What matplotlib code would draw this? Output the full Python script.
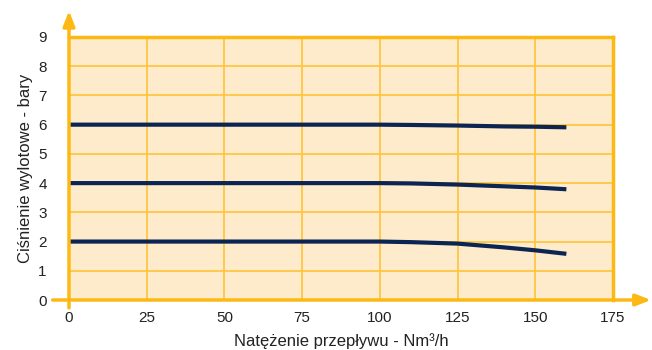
import matplotlib
matplotlib.use("Agg")
import matplotlib.pyplot as plt
import numpy as np

plt.rcParams['font.family'] = ['Liberation Sans', 'DejaVu Sans']

# flow rate (Nm3/h) and outlet pressure (bar) for three settings
flow = [0, 25, 50, 75, 100, 110, 125, 140, 150, 160]
p6 = [6.0, 6.0, 6.0, 6.0, 6.0, 5.99, 5.97, 5.94, 5.93, 5.91]
p4 = [4.0, 4.0, 4.0, 4.0, 4.0, 3.99, 3.95, 3.89, 3.85, 3.79]
p2 = [2.0, 2.0, 2.0, 2.0, 2.0, 1.98, 1.93, 1.80, 1.70, 1.58]

xticks = [0, 25, 50, 75, 100, 125, 150, 175]
yticks = list(range(10))

orange = '#FDB913'
grid_c = '#FDC437'
fill_c = '#FDEBCC'
navy = '#0B2452'

fig = plt.figure(figsize=(6.52, 3.5), dpi=100)
ax = fig.add_axes([69/652, 1 - 300/350, (613 - 69)/652, (300 - 37)/350])
ax.set_facecolor(fill_c)
ax.set_xlim(0, 175)
ax.set_ylim(0, 9)
ax.set_xticks(xticks)
ax.set_yticks(yticks)
ax.grid(True, color=grid_c, linewidth=1.2)
ax.set_axisbelow(True)
ax.tick_params(length=0, labelsize=11, colors='#222222')
ax.tick_params(axis='y', pad=16)
ax.tick_params(axis='x', pad=8)

for s in ['top', 'right']:
    ax.spines[s].set_color(orange)
    ax.spines[s].set_linewidth(2.5)
for s in ['left', 'bottom']:
    ax.spines[s].set_visible(False)

for p in (p6, p4, p2):
    ax.plot(flow, p, color=navy, linewidth=3, solid_capstyle='butt')

# axis arrows
ax.annotate('', xy=(0, 1.1), xytext=(0, -0.03), xycoords='axes fraction',
            arrowprops=dict(arrowstyle='-|>,head_width=0.35,head_length=0.9',
                            color=orange, lw=2.5, shrinkA=0, shrinkB=0))
ax.annotate('', xy=(1.07, 0), xytext=(-0.03, 0), xycoords='axes fraction',
            arrowprops=dict(arrowstyle='-|>,head_width=0.35,head_length=0.9',
                            color=orange, lw=2.5, shrinkA=0, shrinkB=0))

ax.set_xlabel('Natężenie przepływu - Nm³/h', fontsize=12, color='#222222', labelpad=6)
ax.set_ylabel('Ciśnienie wylotowe - bary', fontsize=12, color='#222222', labelpad=4)

fig.savefig('out.png', dpi=100)
